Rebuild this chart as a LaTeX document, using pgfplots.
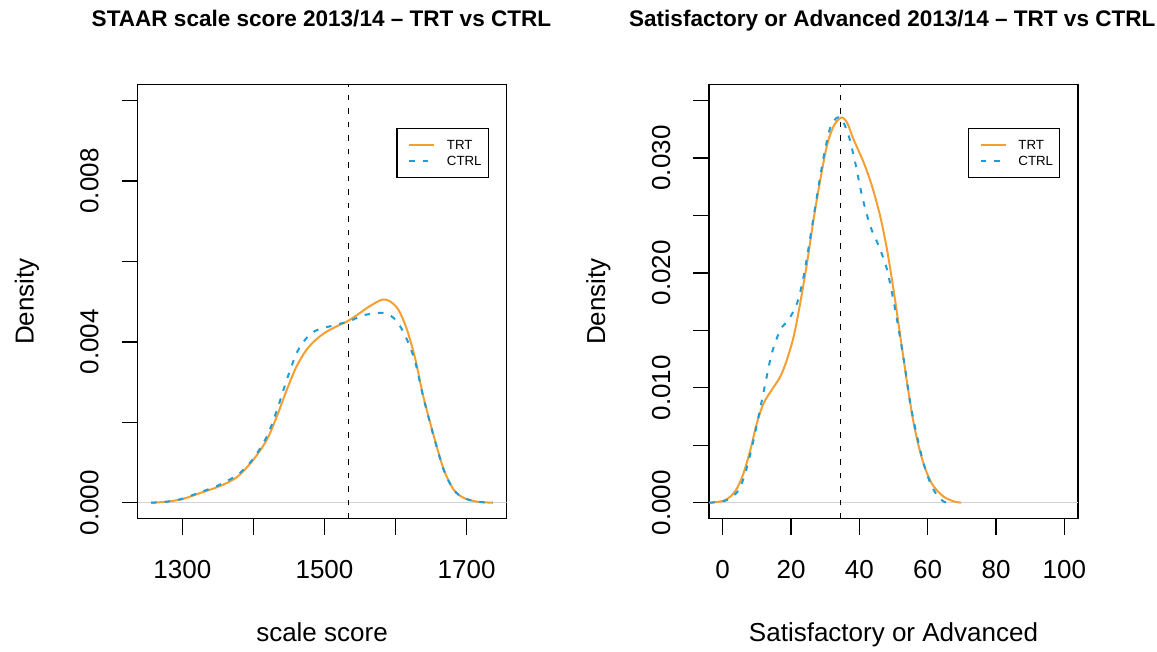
\documentclass[border=0pt]{standalone}
\usepackage{pgfplots}
\pgfplotsset{compat=1.18}
\usepackage{fontspec}
\setmainfont{Liberation Sans}
\definecolor{trt}{RGB}{245,158,50}
\definecolor{ctrl}{RGB}{28,158,218}
\definecolor{zline}{RGB}{211,211,211}

\pgfplotsset{
  rstyle/.style={
    scale only axis,
    width=369pt, height=434.3pt,
    anchor=south west,
    axis line style={line width=1.3pt},
    every tick/.style={black, line width=1.3pt},
    major tick length=16pt,
    tick align=outside,
    tick pos=left,
    tick label style={font=\fontsize{26}{31}\selectfont},
    xticklabel style={anchor=base, yshift=-43.3pt},
    yticklabel style={anchor=base, xshift=-23pt, rotate=90},
    scaled ticks=false,
    /pgf/number format/assume math mode=true,
  },
  trtline/.style={trt, line width=2pt, smooth, tension=0.5},
  ctrlline/.style={ctrl, line width=2pt, dash pattern=on 5.5pt off 8pt, smooth, tension=0.5},
}

\begin{document}
\begin{tikzpicture}
\path[use as bounding box] (0pt,0pt) rectangle (1157pt,652pt);

% ---------------- left panel ----------------
\begin{axis}[rstyle, at={(137.5pt,133.2pt)},
  xmin=1236.8, xmax=1756.2, ymin=-0.0004, ymax=0.0104,
  xtick={1300,1400,1500,1600,1700},
  xticklabels={1300,,1500,,1700},
  ytick={0,0.002,0.004,0.006,0.008,0.010},
  yticklabels={0.000,,0.004,,0.008,},
]
\addplot[zline, line width=1.3pt] coordinates {(1236.8,0) (1756.2,0)};
\addplot[trtline] coordinates {
(1256,0) (1278,0.000025) (1300,0.00009) (1325,0.00024) (1348,0.00038)
(1367,0.00053) (1381,0.0007) (1400,0.00107) (1419,0.00157) (1433,0.00215)
(1447,0.00281) (1461,0.0034) (1475,0.00381) (1489,0.00407) (1500,0.00422)
(1513,0.00435) (1534,0.00453) (1550,0.00472) (1564,0.00489) (1581,0.00505)
(1592,0.00501) (1604,0.0048) (1616,0.00431) (1628,0.00356) (1639,0.00265)
(1654,0.00165) (1668,0.00082) (1682,0.00032) (1696,0.00012) (1715,0.000025)
(1737,0)};
\addplot[ctrlline] coordinates {
(1256,0) (1278,0.000025) (1300,0.0001) (1325,0.00026) (1348,0.00041)
(1367,0.00058) (1381,0.00074) (1400,0.0011) (1419,0.00165) (1433,0.0023)
(1447,0.00306) (1461,0.00373) (1475,0.0041) (1489,0.00429) (1513,0.00441)
(1534,0.00451) (1555,0.00466) (1576,0.00472) (1588,0.0047) (1602,0.00451)
(1616,0.00406) (1628,0.00348) (1639,0.00263) (1654,0.00163) (1668,0.00081)
(1682,0.00032) (1696,0.00012) (1715,0.000025) (1737,0)};
\addplot[black, line width=1.7pt, dash pattern=on 5.5pt off 8pt] coordinates {(1533.8,-0.0004) (1533.8,0.0104)};
\end{axis}

% ---------------- right panel ----------------
\begin{axis}[rstyle, at={(709pt,133.2pt)},
  xmin=-4, xmax=104, ymin=-0.0014, ymax=0.0364,
  xtick={0,20,40,60,80,100},
  xticklabels={0,20,40,60,80,100},
  ytick={0,0.005,0.010,0.015,0.020,0.025,0.030,0.035},
  yticklabels={0.000,,0.010,,0.020,,0.030,},
]
\addplot[zline, line width=1.3pt] coordinates {(-4,0) (104,0)};
\addplot[trtline] coordinates {
(-3.9,0) (0,0.000145) (2.2,0.00052) (4.2,0.00125) (6.1,0.00256) (8.1,0.00459)
(10.0,0.00692) (12.0,0.00866) (14.4,0.00983) (16.9,0.01099) (18.8,0.01244)
(20.8,0.01448) (22.7,0.01738) (24.7,0.02087) (26.6,0.02465) (28.6,0.02814)
(30.5,0.03105) (32.5,0.03279) (34.7,0.03352) (36.4,0.03308) (38.3,0.03163)
(41.3,0.02959) (43.7,0.02756) (46.1,0.02494) (48.1,0.02203) (50.0,0.01855)
(52.0,0.01448) (54.0,0.01041) (55.9,0.00692) (57.9,0.0043) (59.8,0.00256)
(61.8,0.0014) (64.7,0.00052) (67.6,0.00012) (69.8,0)};
\addplot[ctrlline] coordinates {
(-3.9,0) (0,0.0001) (2.2,0.0004) (4.7,0.0011) (6.6,0.00256) (8.6,0.00488)
(10.5,0.0075) (12.5,0.0104) (14.4,0.01302) (16.9,0.01506) (19.3,0.01593)
(21.8,0.01738) (23.7,0.01971) (25.7,0.0232) (27.6,0.02669) (29.6,0.03017)
(31.5,0.03265) (33.5,0.03352) (34.9,0.03337) (36.9,0.03192) (38.8,0.02959)
(40.8,0.02669) (43.2,0.02407) (45.7,0.02233) (48.1,0.02029) (50.5,0.0168)
(53.0,0.01244) (54.9,0.00866) (56.9,0.00576) (58.8,0.00343) (60.8,0.00169)
(62.7,0.00067) (64.7,0.0001) (66.1,0)};
\addplot[black, line width=1.7pt, dash pattern=on 5.5pt off 8pt] coordinates {(34.5,-0.0014) (34.5,0.0364)};
\end{axis}

% ---------------- titles and axis labels ----------------
\node[anchor=base, font=\bfseries\fontsize{22.55}{27}\selectfont] at (321.5pt,625.3pt) {STAAR scale score 2013/14 -- TRT vs CTRL};
\node[anchor=base, font=\bfseries\fontsize{22.55}{27}\selectfont] at (892.3pt,625.3pt) {Satisfactory or Advanced 2013/14 -- TRT vs CTRL};
\node[anchor=base, font=\fontsize{26}{31}\selectfont] at (322pt,10pt) {scale score};
\node[anchor=base, font=\fontsize{26}{31}\selectfont] at (893.5pt,10pt) {Satisfactory or Advanced};
\node[anchor=base, rotate=90, font=\fontsize{26}{31}\selectfont] at (33.5pt,350.4pt) {Density};
\node[anchor=base, rotate=90, font=\fontsize{26}{31}\selectfont] at (605.2pt,350.4pt) {Density};

% ---------------- legends ----------------
\foreach \dx in {0pt,571.5pt} {
  \begin{scope}[xshift=\dx]
  \draw[black, line width=1.3pt] (397pt,474.7pt) rectangle (488.3pt,523.7pt);
  \draw[trt, line width=2pt] (409.3pt,507pt) -- (434.3pt,507pt);
  \draw[ctrl, line width=2pt, dash pattern=on 5.5pt off 8pt] (409.3pt,491pt) -- (434.3pt,491pt);
  \node[anchor=base west, inner sep=0pt, font=\fontsize{13.3}{16}\selectfont] at (446.7pt,502.2pt) {TRT};
  \node[anchor=base west, inner sep=0pt, font=\fontsize{13.3}{16}\selectfont] at (446.7pt,486.2pt) {CTRL};
  \end{scope}
}
\end{tikzpicture}
\end{document}
